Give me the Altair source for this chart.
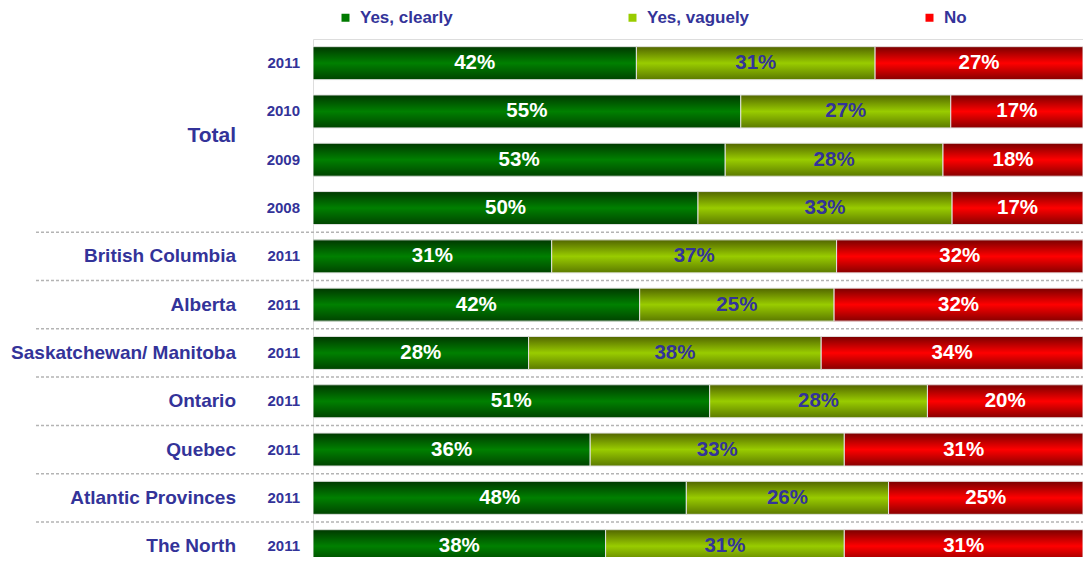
import altair as alt
import pandas as pd

categories = ["Yes, clearly", "Yes, vaguely", "No"]
regions = ["Total", "Total", "Total", "Total", "British Columbia", "Alberta",
           "Saskatchewan/ Manitoba", "Ontario", "Quebec", "Atlantic Provinces", "The North"]
years = ["2011", "2010", "2009", "2008", "2011", "2011", "2011", "2011", "2011", "2011", "2011"]
yes_clearly = [42, 55, 53, 50, 31, 42, 28, 51, 36, 48, 38]
yes_vaguely = [31, 27, 28, 33, 37, 25, 38, 28, 33, 26, 31]
no_values = [27, 17, 18, 17, 32, 32, 34, 20, 31, 25, 31]

series = [yes_clearly, yes_vaguely, no_values]
records = []
for r in range(len(regions)):
    for k, cat in enumerate(categories):
        records.append({"row": r, "region": regions[r], "year": years[r],
                        "category": cat, "order": k, "value": series[k][r]})
df = pd.DataFrame(records)

BLUE = "#333399"
FONT = "Liberation Sans"
solid = ["#007a00", "#99cc00", "#ff0000"]
grad = {
    "Yes, clearly": ["#003800", "#008000", "#004400"],
    "Yes, vaguely": ["#526600", "#99cc00", "#5c7a00"],
    "No": ["#7a0000", "#ff0000", "#880000"],
}


def gradient(c):
    return alt.LinearGradient(
        gradient="linear", x1=0, y1=0, x2=0, y2=1,
        stops=[alt.GradientStop(color=c[0], offset=0),
               alt.GradientStop(color=c[1], offset=0.5),
               alt.GradientStop(color=c[2], offset=1)])


yscale = alt.Scale(domain=[-0.5, 10.2246], reverse=True, nice=False, zero=False)
xscale = alt.Scale(domain=[0, 1], nice=False, zero=False)


def stacked(ch):
    return (ch.transform_joinaggregate(total="sum(value)", groupby=["row"])
            .transform_window(cum="sum(value)", sort=[alt.SortField("order")],
                              groupby=["row"], frame=[None, 0])
            .transform_calculate(
                x0="(datum.cum - datum.value) / datum.total",
                x1="datum.cum / datum.total",
                xm="(datum.cum - datum.value / 2) / datum.total",
                y0="datum.row - 0.3415",
                y1="datum.row + 0.3415",
                label="datum.value + '%'"))


legend_bars = stacked(alt.Chart()).mark_bar(clip=True).encode(
    x=alt.X("x0:Q", scale=xscale, axis=None),
    x2="x1:Q",
    y=alt.Y("y0:Q", scale=yscale, axis=None),
    y2="y1:Q",
    color=alt.Color("category:N",
                    scale=alt.Scale(domain=categories, range=solid),
                    legend=alt.Legend(title=None, orient="none", legendX=24, legendY=-30,
                                      direction="horizontal", symbolType="square",
                                      symbolSize=64, symbolStrokeWidth=0,
                                      labelFont=FONT, labelFontSize=17,
                                      labelFontWeight="bold", labelColor=BLUE,
                                      labelOffset=6, columnPadding=171, padding=0)),
)

grad_layers = []
for cat in categories:
    grad_layers.append(
        stacked(alt.Chart()).transform_filter(alt.datum.category == cat)
        .mark_bar(clip=True, fill=gradient(grad[cat]), stroke="#e2e2e2", strokeWidth=1)
        .encode(x=alt.X("x0:Q", scale=xscale, axis=None), x2="x1:Q",
                y=alt.Y("y0:Q", scale=yscale, axis=None), y2="y1:Q"))

txt_white = stacked(alt.Chart()).transform_filter(alt.datum.category != "Yes, vaguely").mark_text(
    font=FONT, fontSize=20.5, fontWeight="bold", color="white", align="center", baseline="middle"
).encode(x=alt.X("xm:Q", scale=xscale, axis=None), y=alt.Y("row:Q", scale=yscale, axis=None),
         text="label:N")

txt_blue = stacked(alt.Chart()).transform_filter(alt.datum.category == "Yes, vaguely").mark_text(
    font=FONT, fontSize=20.5, fontWeight="bold", color=BLUE, align="center", baseline="middle"
).encode(x=alt.X("xm:Q", scale=xscale, axis=None), y=alt.Y("row:Q", scale=yscale, axis=None),
         text="label:N")

year_labels = alt.Chart().transform_filter(alt.datum.category == "Yes, clearly").mark_text(
    font=FONT, fontSize=15, fontWeight="bold", color=BLUE, align="right", baseline="middle"
).encode(x=alt.value(-13), y=alt.Y("row:Q", scale=yscale, axis=None), text="year:N")

region_labels = alt.Chart().transform_aggregate(
    yc="mean(row)", groupby=["region"]
).mark_text(
    font=FONT, fontWeight="bold", color=BLUE, align="right", baseline="middle"
).encode(x=alt.value(-77), y=alt.Y("yc:Q", scale=yscale, axis=None), text="region:N",
         size=alt.condition(alt.datum.region == "Total", alt.value(21), alt.value(19)))

separators = alt.Chart().transform_aggregate(
    first="min(row)", groupby=["region"]
).transform_filter("datum.first > 0").transform_calculate(
    ys="datum.first - 0.5"
).mark_rule(stroke="#b4b4b4", strokeDash=[3, 2], strokeWidth=1.5).encode(
    y=alt.Y("ys:Q", scale=yscale, axis=None), x=alt.value(-277), x2=alt.value(770))

chart = alt.layer(
    legend_bars, *grad_layers, separators, txt_white, txt_blue, year_labels, region_labels,
    data=df
).properties(
    width=770, height=518,
    autosize=alt.AutoSizeParams(type="none"),
    padding={"left": 305, "top": 31, "right": 0, "bottom": 0},
).configure_view(strokeWidth=0).configure(font=FONT, background="white")

chart.save("out.html", embed_options={"renderer": "svg", "actions": False})
